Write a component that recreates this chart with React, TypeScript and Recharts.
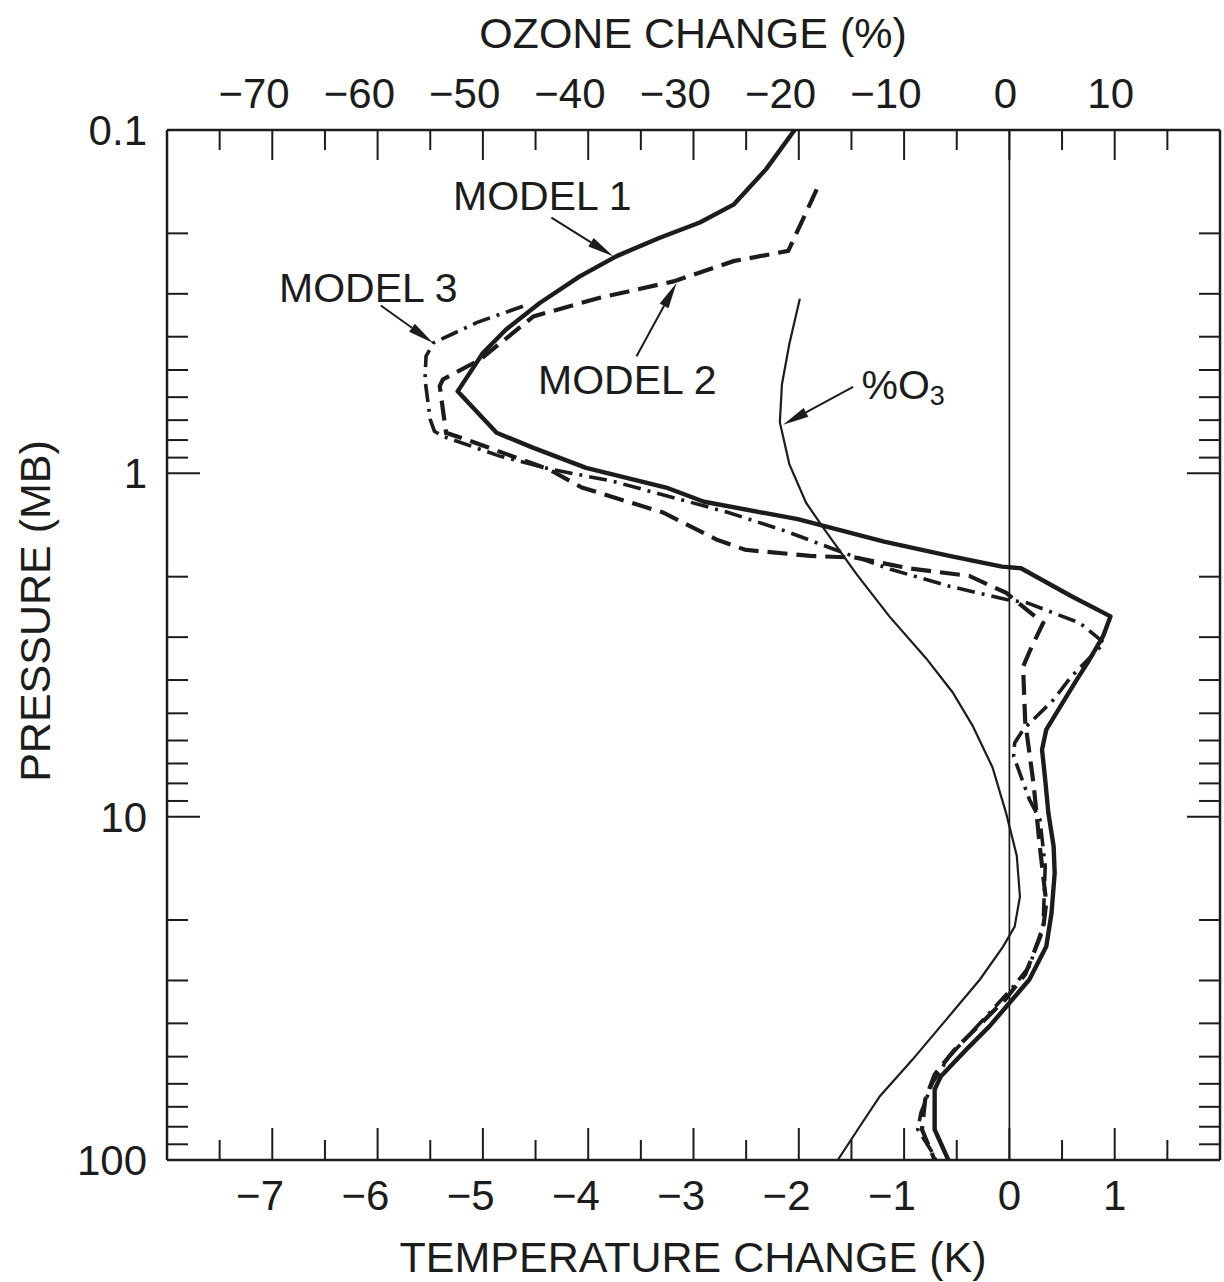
import { ScatterChart, Scatter, XAxis, YAxis, ReferenceLine, ReferenceDot } from 'recharts'

const FONT = '"Liberation Sans", Arial, Helvetica, sans-serif'
const INK = '#1c1c1c'

// p = pressure (mb), t = temperature change (K)
const model1 = [
	{ p: 0.1, t: -2.04 }, { p: 0.13, t: -2.31 }, { p: 0.165, t: -2.62 }, { p: 0.186, t: -2.94 },
	{ p: 0.206, t: -3.32 }, { p: 0.233, t: -3.73 }, { p: 0.267, t: -4.08 }, { p: 0.319, t: -4.46 },
	{ p: 0.381, t: -4.78 }, { p: 0.446, t: -5.0 }, { p: 0.577, t: -5.24 }, { p: 0.762, t: -4.87 },
	{ p: 0.843, t: -4.52 }, { p: 0.964, t: -4.02 }, { p: 1.1, t: -3.26 }, { p: 1.21, t: -2.9 },
	{ p: 1.36, t: -2.01 }, { p: 1.58, t: -1.19 }, { p: 1.74, t: -0.57 }, { p: 1.87, t: -0.07 },
	{ p: 1.89, t: 0.11 }, { p: 2.28, t: 0.59 }, { p: 2.61, t: 0.96 }, { p: 2.98, t: 0.89 },
	{ p: 3.49, t: 0.76 }, { p: 3.99, t: 0.64 }, { p: 5.58, t: 0.35 }, { p: 6.38, t: 0.31 },
	{ p: 7.8, t: 0.34 }, { p: 9.75, t: 0.37 }, { p: 12.2, t: 0.42 }, { p: 14.6, t: 0.43 },
	{ p: 19.1, t: 0.4 }, { p: 23.9, t: 0.35 }, { p: 29.8, t: 0.19 }, { p: 34.9, t: 0.0 },
	{ p: 40.8, t: -0.19 }, { p: 47.7, t: -0.41 }, { p: 57.0, t: -0.65 }, { p: 62.4, t: -0.71 },
	{ p: 81.5, t: -0.71 }, { p: 100, t: -0.58 },
]

const model2 = [
	{ p: 0.149, t: -1.83 }, { p: 0.225, t: -2.1 }, { p: 0.241, t: -2.62 }, { p: 0.276, t: -3.19 },
	{ p: 0.308, t: -3.89 }, { p: 0.349, t: -4.52 }, { p: 0.467, t: -5.03 }, { p: 0.533, t: -5.38 },
	{ p: 0.557, t: -5.41 }, { p: 0.762, t: -5.35 }, { p: 0.797, t: -5.16 }, { p: 0.975, t: -4.37 },
	{ p: 1.1, t: -4.06 }, { p: 1.3, t: -3.29 }, { p: 1.56, t: -2.78 }, { p: 1.67, t: -2.51 },
	{ p: 1.74, t: -1.89 }, { p: 1.76, t: -1.46 }, { p: 1.89, t: -0.96 }, { p: 1.99, t: -0.38 },
	{ p: 2.23, t: -0.03 }, { p: 2.73, t: 0.32 }, { p: 3.26, t: 0.2 }, { p: 3.66, t: 0.13 },
	{ p: 5.28, t: 0.15 }, { p: 8.06, t: 0.23 }, { p: 12.3, t: 0.29 }, { p: 17.8, t: 0.35 },
	{ p: 21.3, t: 0.32 }, { p: 28.8, t: 0.15 }, { p: 34.1, t: -0.04 }, { p: 40.3, t: -0.28 },
	{ p: 47.7, t: -0.52 }, { p: 56.4, t: -0.71 }, { p: 66.7, t: -0.8 }, { p: 81.5, t: -0.83 },
	{ p: 100, t: -0.71 },
]

const model3 = [
	{ p: 0.326, t: -4.62 }, { p: 0.364, t: -5.06 }, { p: 0.417, t: -5.47 }, { p: 0.456, t: -5.54 },
	{ p: 0.533, t: -5.55 }, { p: 0.697, t: -5.5 }, { p: 0.754, t: -5.46 }, { p: 0.78, t: -5.38 },
	{ p: 0.891, t: -4.84 }, { p: 0.975, t: -4.34 }, { p: 1.054, t: -3.77 }, { p: 1.3, t: -2.67 },
	{ p: 1.475, t: -2.12 }, { p: 1.667, t: -1.66 }, { p: 1.907, t: -1.12 }, { p: 2.133, t: -0.57 },
	{ p: 2.33, t: -0.03 }, { p: 2.384, t: 0.17 }, { p: 2.73, t: 0.67 }, { p: 3.12, t: 0.9 },
	{ p: 3.9, t: 0.59 }, { p: 4.56, t: 0.42 }, { p: 5.58, t: 0.13 }, { p: 6.1, t: 0.05 },
	{ p: 6.67, t: 0.04 }, { p: 8.91, t: 0.19 }, { p: 10.2, t: 0.29 }, { p: 13.95, t: 0.34 },
	{ p: 20.8, t: 0.32 }, { p: 27.3, t: 0.19 }, { p: 31.2, t: 0.04 }, { p: 37.3, t: -0.19 },
	{ p: 49.9, t: -0.57 }, { p: 59.6, t: -0.73 }, { p: 72.9, t: -0.84 }, { p: 81.5, t: -0.87 },
	{ p: 95.2, t: -0.73 }, { p: 100, t: -0.7 },
]

// o = ozone change (%)
const ozone = [
	{ p: 0.31, o: -19.9 }, { p: 0.42, o: -20.9 }, { p: 0.55, o: -21.6 }, { p: 0.71, o: -21.8 },
	{ p: 0.94, o: -20.9 }, { p: 1.22, o: -19.3 }, { p: 1.48, o: -17.4 }, { p: 1.97, o: -14.5 },
	{ p: 2.61, o: -11.4 }, { p: 3.46, o: -7.9 }, { p: 4.34, o: -5.4 }, { p: 5.43, o: -3.5 },
	{ p: 7.19, o: -1.6 }, { p: 9.8, o: -0.3 }, { p: 13.0, o: 0.7 }, { p: 17.1, o: 1.0 },
	{ p: 20.9, o: 0.5 }, { p: 23.9, o: -0.6 }, { p: 29.8, o: -2.8 }, { p: 39.0, o: -6.0 },
	{ p: 51.0, o: -9.2 }, { p: 65.2, o: -12.3 }, { p: 81.5, o: -14.4 }, { p: 100, o: -16.3 },
]

const tempTicks = [-7.5, -7, -6.5, -6, -5.5, -5, -4.5, -4, -3.5, -3, -2.5, -2, -1.5, -1, -0.5, 0, 0.5, 1, 1.5]
const ozoneTicks = [-75, -70, -65, -60, -55, -50, -45, -40, -35, -30, -25, -20, -15, -10, -5, 0, 5, 10, 15]
const pressureTicks = [
	0.1, 0.2, 0.3, 0.4, 0.5, 0.6, 0.7, 0.8, 0.9, 1, 2, 3, 4, 5, 6, 7, 8, 9, 10,
	20, 30, 40, 50, 60, 70, 80, 90, 100,
]
const pressureLabels = [0.1, 1, 10, 100]

const fmt = (v: number) => (v < 0 ? '\u2212' + Math.abs(v) : String(v))
const DIGIT = 11.7

const labelStyle = { fontFamily: FONT, fontSize: 42, fill: INK }

function BottomTick(props: any) {
	const { x, y, payload } = props
	const v = payload.value
	const major = Number.isInteger(v)
	const digits = String(Math.abs(v)).length
	return (
		<g>
			<line x1={x} y1={y} x2={x} y2={y - (major ? 32 : 20)} stroke={INK} strokeWidth={2} />
			{major && (
				<text
					x={v < 0 ? x + digits * DIGIT : x}
					y={y + 50}
					textAnchor={v < 0 ? 'end' : 'middle'}
					{...labelStyle}
				>
					{fmt(v)}
				</text>
			)}
		</g>
	)
}

function TopTick(props: any) {
	const { x, y, payload } = props
	const v = payload.value
	const major = v % 10 === 0
	const digits = String(Math.abs(v)).length
	return (
		<g>
			<line x1={x} y1={y} x2={x} y2={y + (major ? 30 : 20)} stroke={INK} strokeWidth={2} />
			{major && (
				<text
					x={v < 0 ? x + digits * DIGIT - 6 : x - 4}
					y={y - 22}
					textAnchor={v < 0 ? 'end' : 'middle'}
					{...labelStyle}
				>
					{fmt(v)}
				</text>
			)}
		</g>
	)
}

function LeftTick(props: any) {
	const { x, y, payload } = props
	const v = payload.value
	const edge = v === 0.1 || v === 100
	const major = pressureLabels.includes(v)
	return (
		<g>
			{!edge && <line x1={x} y1={y} x2={x + (major ? 33 : 21)} y2={y} stroke={INK} strokeWidth={2} />}
			{major && (
				<text x={x - 20} y={y + 15} textAnchor='end' {...labelStyle}>
					{String(v)}
				</text>
			)}
		</g>
	)
}

function RightTick(props: any) {
	const { x, y, payload } = props
	const v = payload.value
	if (v === 0.1 || v === 100) return <g />
	const major = pressureLabels.includes(v)
	return <line x1={x} y1={y} x2={x - (major ? 33 : 21)} y2={y} stroke={INK} strokeWidth={2} />
}

const noDot = () => <g />

const arrow = (props: any) => {
	const { x1, y1, x2, y2 } = props
	const a = Math.atan2(y2 - y1, x2 - x1)
	const c = Math.cos(a)
	const s = Math.sin(a)
	const bx = x2 - 26 * c
	const by = y2 - 26 * s
	return (
		<g>
			<line x1={x1} y1={y1} x2={bx} y2={by} stroke={INK} strokeWidth={2} />
			<polygon
				points={`${x2},${y2} ${bx - 5 * s},${by + 5 * c} ${bx + 5 * s},${by - 5 * c}`}
				fill={INK}
			/>
		</g>
	)
}

const note = (content: any, anchor: 'start' | 'middle') => (props: any) => (
	<text
		x={props.cx}
		y={props.cy}
		dy={15}
		textAnchor={anchor}
		fontFamily={FONT}
		fontSize={41}
		fill={INK}
	>
		{content}
	</text>
)

const axisLine = { stroke: INK, strokeWidth: 2.5 }

export default function App() {
	return (
		<div style={{ position: 'absolute', left: 0, top: 0, background: '#fff' }}>
			<ScatterChart width={1224} height={1282} margin={{ top: 100, right: 0, bottom: 92, left: 107 }}>
				<XAxis
					xAxisId='k'
					dataKey='t'
					type='number'
					orientation='bottom'
					domain={[-8, 2]}
					allowDataOverflow
					ticks={tempTicks}
					interval={0}
					tick={BottomTick}
					tickLine={false}
					tickSize={0}
					tickMargin={0}
					axisLine={axisLine}
					height={30}
					label={() => (
						<text x={693} y={1272} textAnchor='middle' fontFamily={FONT} fontSize={43} fill={INK}>
							TEMPERATURE CHANGE (K)
						</text>
					)}
				/>
				<XAxis
					xAxisId='o3'
					dataKey='o'
					type='number'
					orientation='top'
					domain={[-80, 20]}
					allowDataOverflow
					ticks={ozoneTicks}
					interval={0}
					tick={TopTick}
					tickLine={false}
					tickSize={0}
					tickMargin={0}
					axisLine={axisLine}
					height={30}
					label={() => (
						<text x={693} y={48} textAnchor='middle' fontFamily={FONT} fontSize={43} fill={INK}>
							OZONE CHANGE (%)
						</text>
					)}
				/>
				<YAxis
					yAxisId='p'
					dataKey='p'
					type='number'
					scale='log'
					domain={[0.1, 100]}
					allowDataOverflow
					reversed
					ticks={pressureTicks}
					interval={0}
					tick={LeftTick}
					tickLine={false}
					tickSize={0}
					tickMargin={0}
					axisLine={axisLine}
					width={60}
					label={() => (
						<text
							x={50}
							y={611}
							transform='rotate(-90 50 611)'
							textAnchor='middle'
							fontFamily={FONT}
							fontSize={43}
							fill={INK}
						>
							PRESSURE (MB)
						</text>
					)}
				/>
				<YAxis
					yAxisId='pr'
					dataKey='p'
					type='number'
					orientation='right'
					scale='log'
					domain={[0.1, 100]}
					allowDataOverflow
					reversed
					ticks={pressureTicks}
					interval={0}
					tick={RightTick}
					tickLine={false}
					tickSize={0}
					tickMargin={0}
					axisLine={axisLine}
					width={4}
				/>

				<ReferenceLine xAxisId='k' yAxisId='p' x={0} stroke={INK} strokeWidth={1.7} />

				<Scatter
					xAxisId='o3'
					yAxisId='pr'
					data={ozone}
					shape={noDot}
					line={{ stroke: INK, strokeWidth: 2.2, fill: 'none' }}
					isAnimationActive={false}
				/>
				<Scatter
					xAxisId='k'
					yAxisId='p'
					data={model3}
					shape={noDot}
					line={{ stroke: INK, strokeWidth: 3.6, strokeDasharray: '18 7 3 7', fill: 'none' }}
					isAnimationActive={false}
				/>
				<Scatter
					xAxisId='k'
					yAxisId='p'
					data={model2}
					shape={noDot}
					line={{ stroke: INK, strokeWidth: 4.2, strokeDasharray: '20 9', fill: 'none' }}
					isAnimationActive={false}
				/>
				<Scatter
					xAxisId='k'
					yAxisId='p'
					data={model1}
					shape={noDot}
					line={{ stroke: INK, strokeWidth: 4.4, strokeLinejoin: 'round', fill: 'none' }}
					isAnimationActive={false}
				/>

				<ReferenceLine xAxisId='k' yAxisId='p' segment={[{ x: -4.349, y: 0.18 }, { x: -3.764, y: 0.233 }]} shape={arrow} ifOverflow='visible' />
				<ReferenceLine xAxisId='k' yAxisId='p' segment={[{ x: -5.97, y: 0.3245 }, { x: -5.473, y: 0.417 }]} shape={arrow} ifOverflow='visible' />
				<ReferenceLine xAxisId='k' yAxisId='p' segment={[{ x: -3.541, y: 0.456 }, { x: -3.161, y: 0.279 }]} shape={arrow} ifOverflow='visible' />
				<ReferenceLine xAxisId='k' yAxisId='p' segment={[{ x: -1.484, y: 0.56 }, { x: -2.149, y: 0.722 }]} shape={arrow} ifOverflow='visible' />

				<ReferenceDot xAxisId='k' yAxisId='p' x={-4.436} y={0.155} shape={note('MODEL 1', 'middle')} ifOverflow='visible' />
				<ReferenceDot xAxisId='k' yAxisId='p' x={-6.088} y={0.286} shape={note('MODEL 3', 'middle')} ifOverflow='visible' />
				<ReferenceDot xAxisId='k' yAxisId='p' x={-3.629} y={0.53} shape={note('MODEL 2', 'middle')} ifOverflow='visible' />
				<ReferenceDot
					xAxisId='k'
					yAxisId='p'
					x={-1.405}
					y={0.548}
					shape={note(
						<>
							%O
							<tspan fontSize={27} dy={6}>
								3
							</tspan>
						</>,
						'start',
					)}
					ifOverflow='visible'
				/>
			</ScatterChart>
		</div>
	)
}
